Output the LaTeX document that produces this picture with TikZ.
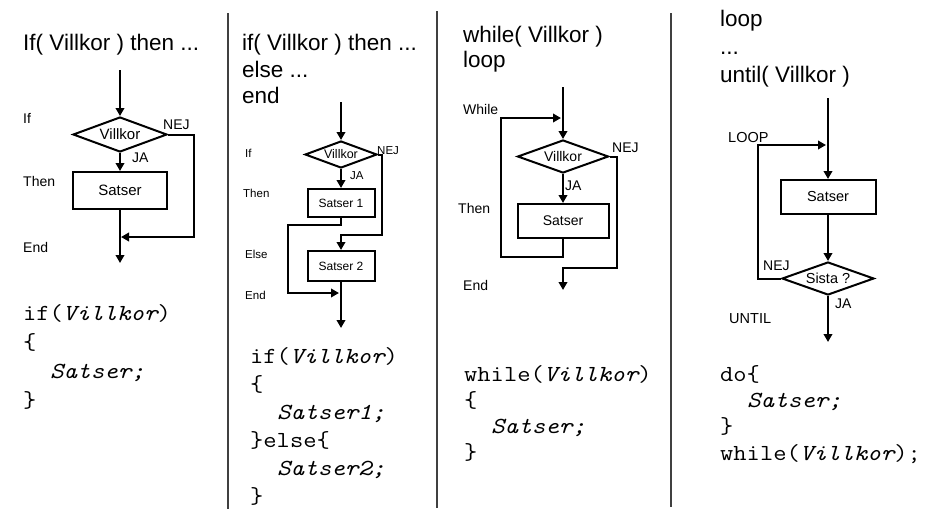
\documentclass[tikz,border=0pt]{standalone}
\usepackage{fontspec}
\setmainfont{Liberation Sans}
\newfontfamily\codefont[FakeStretch=1.12]{Latin Modern Mono}
\usetikzlibrary{arrows.meta,shapes.geometric}

\tikzset{
  flow/.style={line width=2pt},
  arr/.style={flow,-{Triangle[length=8pt,width=8.5pt]}},
  dia/.style={draw,line width=2pt,shape=diamond,inner sep=0pt},
  box/.style={draw,line width=2pt,rectangle,inner sep=0pt},
  sep/.style={line width=1.3pt,draw=black!75},
  lbl/.style={anchor=base west,inner sep=0pt},
  title/.style={lbl,font=\fontsize{22.5pt}{26pt}\selectfont},
  code/.style={lbl,font=\codefont\fontsize{23pt}{26pt}\selectfont},
  big/.style={font=\fontsize{14pt}{16pt}\selectfont},
  small/.style={font=\fontsize{11.5pt}{13pt}\selectfont},
}

\begin{document}
\begin{tikzpicture}[x=1pt,y=-1pt]
\useasboundingbox (0,0) rectangle (946,509);

% column separators
\draw[sep] (228,13) -- (228,509);
\draw[sep] (437,11) -- (437,508);
\draw[sep] (671,13) -- (671,507);

% ---------- if ... then ----------
\node[title] (h1) at (23,50) {If( Villkor ) then ...};
\node[lbl,big] (l1a) at (23,123) {If};
\node[lbl,big] (l1b) at (23,186) {Then};
\node[lbl,big] (l1c) at (23,252) {End};

\coordinate (t1) at (120,70);
\node[dia,minimum width=94pt,minimum height=35pt] (d1) at (120,134.5) {};
\node[big,font=\fontsize{15pt}{17pt}\selectfont] (d1t) at (d1) {Villkor};
\node[box,minimum width=94pt,minimum height=37pt,big,font=\fontsize{15pt}{17pt}\selectfont] (b1) at (120,190.5) {Satser};
\node[lbl,big] (n1) at (163,129) {NEJ};
\node[lbl,big] (j1) at (132,162) {JA};
\coordinate (c1) at (194,237);
\coordinate (m1) at (121,237);
\coordinate (e1) at (120,263);

\draw[arr] (t1) -- (d1.north);
\draw[arr] (d1.south) -- (b1.north);
\draw[arr] (d1.east) -| (c1) -- (m1);
\draw[arr] (b1.south) -- (e1);

\node[code] (k1a) at (23,320) {if(\itshape Villkor\upshape)};
\node[code] (k1b) at (23,349) {\{};
\node[code] (k1c) at (50,378) {\itshape Satser;};
\node[code] (k1d) at (23,407) {\}};

% ---------- if ... then ... else ----------
\node[title] (h2a) at (242,50) {if( Villkor ) then ...};
\node[title] (h2b) at (242,77) {else ...};
\node[title] (h2c) at (242,103) {end};
\node[lbl,small] (l2a) at (245,157) {If};
\node[lbl,small] (l2b) at (243,197) {Then};
\node[lbl,small] (l2c) at (245,258) {Else};
\node[lbl,small] (l2d) at (245,299) {End};

\coordinate (t2) at (341,102);
\node[dia,minimum width=72pt,minimum height=27pt] (d2) at (341,154.5) {};
\node[small,font=\fontsize{12.5pt}{14pt}\selectfont] (d2t) at (d2) {Villkor};
\node[box,minimum width=67pt,minimum height=28pt,small,font=\fontsize{12pt}{14pt}\selectfont] (b21) at (341,203) {Satser 1};
\node[box,minimum width=67pt,minimum height=30pt,small,font=\fontsize{12pt}{14pt}\selectfont] (b22) at (341,266) {Satser 2};
\node[lbl,small] (n2) at (377,154) {NEJ};
\node[lbl,small] (j2) at (350,179) {JA};
\coordinate (c2a) at (382,235);
\coordinate (c2b) at (288,225);
\coordinate (m2) at (339,293);
\coordinate (e2) at (341,328);

\draw[arr] (t2) -- (d2.north);
\draw[arr] (d2.south) -- (b21.north);
\draw[arr] (d2.east) -| (c2a) -| (b22.north);
\draw[arr] (b21.south) |- (c2b) |- (m2);
\draw[arr] (b22.south) -- (e2);

\node[code] (k2a) at (250,363) {if(\itshape Villkor\upshape)};
\node[code] (k2b) at (250,391) {\{};
\node[code] (k2c) at (277,419) {\itshape Satser1;};
\node[code] (k2d) at (250,447) {\}else\{};
\node[code] (k2e) at (277,475) {\itshape Satser2;};
\node[code] (k2f) at (250,503) {\}};

% ---------- while ... loop ----------
\node[title] (h3a) at (463,42) {while( Villkor )};
\node[title] (h3b) at (463,67) {loop};
\node[lbl,big] (l3a) at (463,114) {While};
\node[lbl,big] (l3b) at (458,213) {Then};
\node[lbl,big] (l3c) at (463,290) {End};

\coordinate (t3) at (563,87);
\node[dia,minimum width=91pt,minimum height=33pt] (d3) at (563,156.5) {};
\node[big] (d3t) at (d3) {Villkor};
\node[box,minimum width=91pt,minimum height=34pt,big] (b3) at (563,221) {Satser};
\node[lbl,big] (n3) at (612,152) {NEJ};
\node[lbl,big] (j3) at (565,190) {JA};
\coordinate (c3a) at (501,257);
\coordinate (m3) at (561,118);
\coordinate (c3b) at (617,268);
\coordinate (e3) at (563,290);

\draw[arr] (t3) -- (d3.north);
\draw[arr] (d3.south) -- (b3.north);
\draw[arr] (b3.south) |- (c3a) |- (m3);
\draw[arr] (d3.east) -| (c3b) -| (e3);

\node[code] (k3a) at (464,381) {while(\itshape Villkor\upshape)};
\node[code] (k3b) at (464,407) {\{};
\node[code] (k3c) at (491,433) {\itshape Satser;};
\node[code] (k3d) at (464,459) {\}};

% ---------- loop ... until ----------
\node[title] (h4a) at (720,26) {loop};
\node[title] (h4b) at (720,54) {...};
\node[title] (h4c) at (720,82) {until( Villkor )};
\node[lbl,big,font=\fontsize{14.5pt}{16pt}\selectfont] (l4a) at (728,142) {LOOP};
\node[lbl,big,font=\fontsize{14.5pt}{16pt}\selectfont] (l4b) at (729,323) {UNTIL};

\coordinate (t4) at (828,98);
\node[box,minimum width=95pt,minimum height=34pt,big,font=\fontsize{14.5pt}{16pt}\selectfont] (b4) at (828,197) {Satser};
\node[dia,minimum width=92pt,minimum height=33pt] (d4) at (828,278.5) {};
\node[big,font=\fontsize{14.5pt}{16pt}\selectfont] (d4t) at (d4) {Sista ?};
\node[lbl,big] (n4) at (763,270) {NEJ};
\node[lbl,big] (j4) at (835,308) {JA};
\coordinate (c4a) at (758,145);
\coordinate (m4) at (826,145);
\coordinate (e4) at (828,342);

\draw[arr] (t4) -- (b4.north);
\draw[arr] (b4.south) -- (d4.north);
\draw[arr] (d4.west) -| (c4a) -- (m4);
\draw[arr] (d4.south) -- (e4);

\node[code] (k4a) at (720,381) {do\{};
\node[code] (k4b) at (747,407) {\itshape Satser;};
\node[code] (k4c) at (720,433) {\}};
\node[code] (k4d) at (720,460) {while(\itshape Villkor\upshape);};
\end{tikzpicture}
\end{document}
